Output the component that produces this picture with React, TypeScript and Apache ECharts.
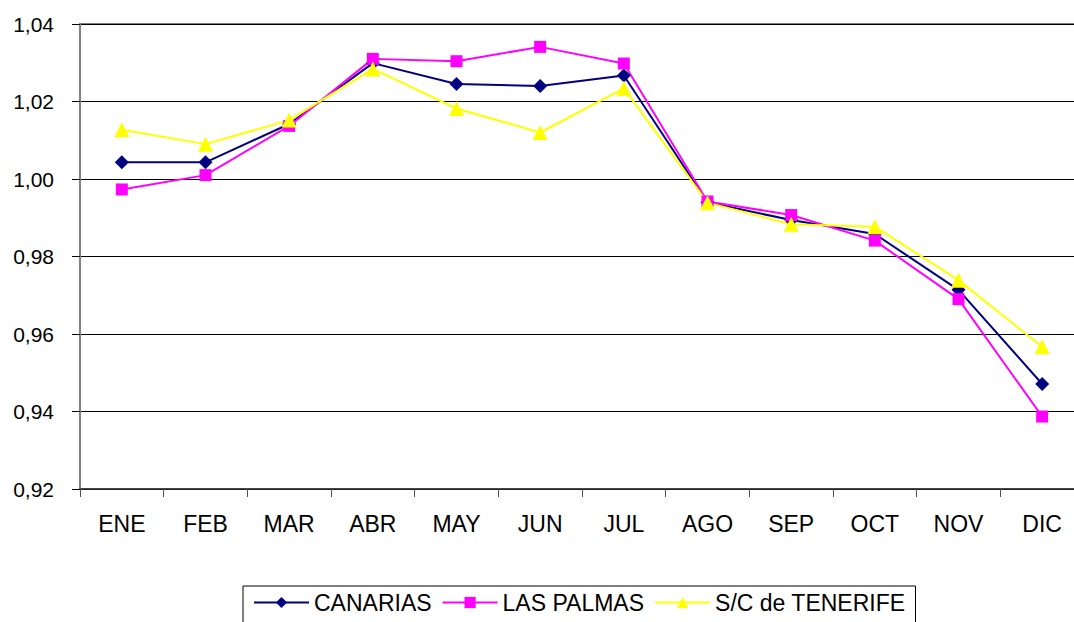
import React, { useEffect, useRef } from "react";
import * as echarts from "echarts";

const categories = ["ENE", "FEB", "MAR", "ABR", "MAY", "JUN", "JUL", "AGO", "SEP", "OCT", "NOV", "DIC"];
const canarias = [1.0043, 1.0043, 1.0142, 1.0299, 1.0245, 1.024, 1.0267, 0.994, 0.9894, 0.9858, 0.9714, 0.9471];
const lasPalmas = [0.9973, 1.001, 1.0137, 1.031, 1.0304, 1.0341, 1.0298, 0.9942, 0.9907, 0.9841, 0.969, 0.9387];
const tenerife = [1.0127, 1.009, 1.0152, 1.0284, 1.0182, 1.012, 1.0234, 0.9939, 0.9883, 0.9877, 0.9739, 0.9567];

const FONT = "Liberation Sans, Arial, sans-serif";

export default function App() {
  const ref = useRef<HTMLDivElement>(null);
  useEffect(() => {
    if (!ref.current) return;
    const chart = echarts.init(ref.current, undefined, { renderer: "svg" });
    const mk = (name: string, data: number[], color: string, symbol: string, size: number) => ({
      name,
      type: "line",
      data,
      symbol,
      symbolSize: size,
      showAllSymbol: true,
      lineStyle: { color, width: 2 },
      itemStyle: { color, borderWidth: 0 },
      emphasis: { disabled: true },
    });
    chart.setOption({
      animation: false,
      textStyle: { fontFamily: FONT },
      grid: {
        left: 80,
        top: 24,
        right: 6,
        bottom: 133,
        show: true,
        borderColor: "#808080",
        borderWidth: 2,
        backgroundColor: "transparent",
      },
      legend: {
        left: 243,
        top: 586,
        orient: "horizontal",
        borderColor: "#000",
        borderWidth: 1,
        padding: [5, 10, 12, 10],
        itemGap: 10,
        itemWidth: 55,
        itemHeight: 14,
        textStyle: { fontSize: 23, color: "#000", fontFamily: FONT },
        data: ["CANARIAS", "LAS PALMAS", "S/C de TENERIFE"],
      },
      xAxis: {
        type: "category",
        data: categories,
        boundaryGap: true,
        axisLine: { lineStyle: { color: "#333", width: 1.5 } },
        axisTick: { show: true, length: 8, lineStyle: { color: "#555" } },
        axisLabel: { fontSize: 23, color: "#000", margin: 23, fontFamily: FONT },
      },
      yAxis: {
        type: "value",
        min: 0.92,
        max: 1.04,
        interval: 0.02,
        axisLine: { show: true, lineStyle: { color: "#808080", width: 2 } },
        axisTick: { show: true, length: 8, lineStyle: { color: "#000" } },
        splitLine: { show: true, lineStyle: { color: "#000", width: 1 } },
        axisLabel: {
          fontSize: 21,
          color: "#000",
          margin: 26,
          fontFamily: FONT,
          formatter: (v: number) => v.toFixed(2).replace(".", ","),
        },
      },
      series: [
        mk("CANARIAS", canarias, "#000080", "diamond", 14),
        mk("LAS PALMAS", lasPalmas, "#FF00FF", "rect", 12),
        mk("S/C de TENERIFE", tenerife, "#FFFF00", "triangle", 15),
      ],
    });
    return () => chart.dispose();
  }, []);
  return (
    <div style={{ position: "fixed", left: 0, top: 0, width: 1074, height: 622, overflow: "hidden", background: "#fff" }}>
      <div ref={ref} style={{ width: 1090, height: 622 }} />
    </div>
  );
}
